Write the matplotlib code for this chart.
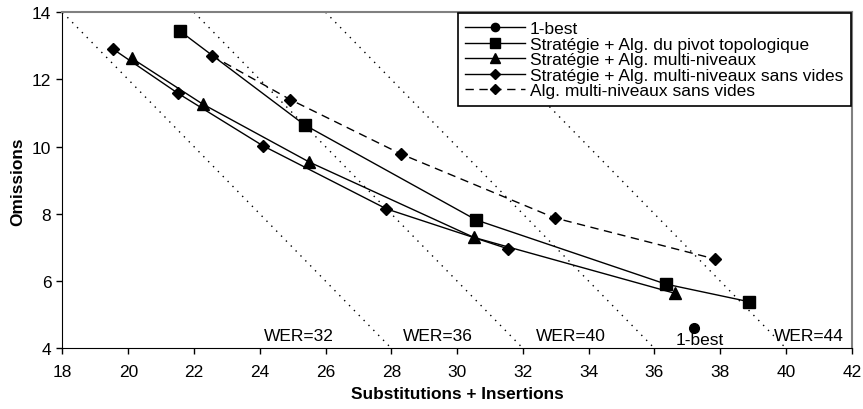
import numpy as np
import matplotlib.pyplot as plt

plt.rcParams['font.family'] = ['Liberation Sans', 'DejaVu Sans']

# data
best_x = [37.2]
best_y = [4.60]

pivot_x = [21.56, 25.36, 30.58, 36.35, 38.86]
pivot_y = [13.45, 10.65, 7.82, 5.91, 5.39]

multi_x = [20.11, 22.26, 25.51, 30.51, 36.61]
multi_y = [12.63, 11.27, 9.54, 7.30, 5.64]

multi_sv_x = [19.53, 21.51, 24.09, 27.85, 31.55]
multi_sv_y = [12.91, 11.59, 10.03, 8.15, 6.96]

alg_sv_x = [22.54, 24.93, 28.30, 32.97, 37.83]
alg_sv_y = [12.71, 11.40, 9.78, 7.88, 6.66]

wer_levels = [32, 36, 40, 44]
wer_label_x = [25.2, 29.4, 33.45, 40.7]
wer_label_y = 4.37

labels = ['1-best',
          'Stratégie + Alg. du pivot topologique',
          'Stratégie + Alg. multi-niveaux',
          'Stratégie + Alg. multi-niveaux sans vides',
          'Alg. multi-niveaux sans vides']

fs = 12.5

fig = plt.figure(figsize=(8.63, 4.10), dpi=100)
ax = fig.add_axes([0.0724, 0.148, 0.9146, 0.8196])

# iso-WER dotted lines: substitutions + insertions + omissions = WER
for wer in wer_levels:
    xs = np.array([wer - 14, wer - 4])
    ax.plot(xs, wer - xs, color='black', lw=1.0, linestyle=(0, (1, 4)), zorder=1)

ax.plot(best_x, best_y, 'o-', color='black', ms=7, lw=1.0, label=labels[0])
ax.plot(pivot_x, pivot_y, 's-', color='black', ms=8, lw=1.0, label=labels[1])
ax.plot(multi_x, multi_y, '^-', color='black', ms=8.5, lw=1.0, label=labels[2])
ax.plot(multi_sv_x, multi_sv_y, 'D-', color='black', ms=6.5, lw=1.0, label=labels[3])
ax.plot(alg_sv_x, alg_sv_y, 'D', color='black', ms=6.5, lw=1.0,
        linestyle=(0, (6, 4)), label=labels[4])

for wer, lx in zip(wer_levels, wer_label_x):
    ax.text(lx, wer_label_y, 'WER=%d' % wer, fontsize=fs, ha='center', va='center')
ax.text(37.37, 4.25, '1-best', fontsize=fs, ha='center', va='center')

ax.set_xlim(18, 42)
ax.set_ylim(4, 14)
ax.set_xticks(np.arange(18, 43, 2))
ax.set_yticks(np.arange(4, 15, 2))
ax.tick_params(direction='out', length=4, width=1, labelsize=fs)
ax.tick_params(axis='x', pad=7)
ax.tick_params(axis='y', pad=4)
ax.spines['top'].set_color('#808080')
ax.spines['right'].set_color('#808080')
ax.spines['top'].set_linewidth(1.5)
ax.spines['right'].set_linewidth(1.5)

ax.set_xlabel('Substitutions + Insertions', fontsize=12.4, fontweight='bold', labelpad=5)
ax.set_ylabel('Omissions', fontsize=12.4, fontweight='bold', labelpad=5)

leg = ax.legend(loc='upper right', fontsize=fs, handlelength=3.4,
                handletextpad=0.3, labelspacing=0.02, borderaxespad=0.05,
                borderpad=0.45, fancybox=False, framealpha=1, markerscale=0.85)
leg.get_frame().set_edgecolor('black')
leg.get_frame().set_linewidth(1.2)

plt.savefig('out.png', dpi=100)
